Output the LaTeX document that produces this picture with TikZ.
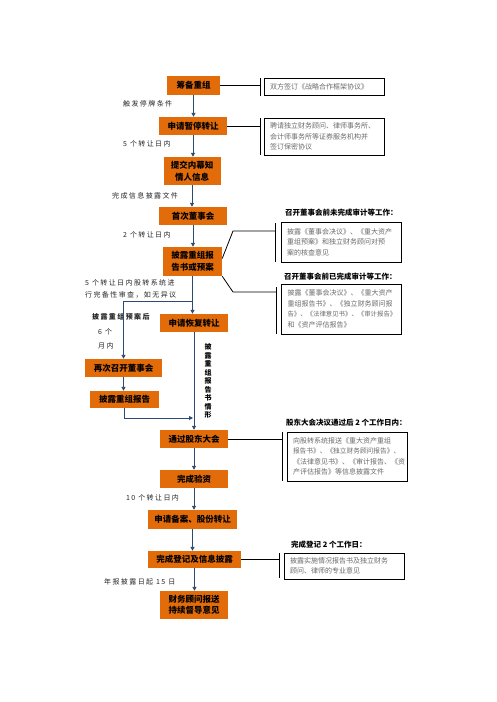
\documentclass[tikz,border=0pt]{standalone}
\usepackage{fontspec}
\setmainfont{Noto Sans CJK SC}
\newfontfamily\cjklab[LetterSpace=20]{Noto Sans CJK SC}
\usetikzlibrary{arrows.meta,calc}
\definecolor{org}{HTML}{E36C0A}
\definecolor{nav}{HTML}{2F4A70}
\definecolor{gtxt}{HTML}{6A6A6A}
\newcommand{\smline}[2]{{\fontsize{#1}{10.5}\selectfont #2}}
\begin{document}
\begin{tikzpicture}[x=1pt,y=-1pt,
 ob/.style={fill=org,draw=none,inner sep=0pt,font=\bfseries\fontsize{8.5}{11.5}\selectfont,align=center},
 gb/.style={draw=black,line width=0.8pt,fill=white,inner sep=0pt,text=gtxt,font=\fontsize{7}{10.5}\selectfont,align=left,minimum width=120pt,text width=108pt},
 hd/.style={font=\bfseries\fontsize{7.5}{9}\selectfont,inner sep=0pt,anchor=west},
 lb/.style={font=\cjklab\fontsize{7}{9}\selectfont,inner sep=0pt,anchor=west,text=black!85},
 ar/.style={draw=nav,line width=0.9pt,-{Triangle[length=4pt,width=4pt]}},
 ln/.style={draw=black,line width=0.8pt},
]
\useasboundingbox[fill=white] (0,0) rectangle (496,702);

% orange boxes
\node[ob,minimum width=53pt,minimum height=19pt] (n1) at (193.5,85) {筹备重组};
\node[ob,minimum width=68pt,minimum height=18pt] (n2) at (193,126) {申请暂停转让};
\node[ob,minimum width=57pt,minimum height=28pt] (n3) at (192,171) {提交内幕知\\情人信息};
\node[ob,minimum width=68pt,minimum height=18pt] (n4) at (193,216) {首次董事会};
\node[ob,minimum width=59pt,minimum height=29pt] (n5) at (192.5,261.5) {披露重组报\\告书或预案};
\node[ob,minimum width=68pt,minimum height=18pt] (n6) at (194,323) {申请恢复转让};
\node[ob,minimum width=77pt,minimum height=18pt] (n7) at (123.5,368) {再次召开董事会};
\node[ob,minimum width=69pt,minimum height=17pt] (n8) at (124.5,399.5) {披露重组报告};
\node[ob,minimum width=68pt,minimum height=18pt] (n9) at (194,439) {通过股东大会};
\node[ob,minimum width=68pt,minimum height=18pt] (n10) at (194,479) {完成验资};
\node[ob,minimum width=89pt,minimum height=19pt] (n11) at (192.5,519.5) {申请备案、股份转让};
\node[ob,minimum width=93pt,minimum height=17pt] (n12) at (194.5,559.5) {完成登记及信息披露};
\node[ob,minimum width=68pt,minimum height=28pt] (n13) at (194,605) {财务顾问报送\\持续督导意见};

% gray text boxes
\node[gb,minimum height=17pt] (g1) at (324,86.5) {双方签订《战略合作框架协议》};
\node[gb,minimum height=37pt] (g2) at (324,136.5) {聘请独立财务顾问、律师事务所、\\会计师事务所等证券服务机构并\\签订保密协议};
\node[gb,minimum height=40pt] (g3) at (341,242) {披露《董事会决议》、《重大资产\\重组预案》和独立财务顾问对预\\案的核查意见};
\node[gb,minimum height=50pt] (g4) at (341.5,309) {披露《董事会决议》、《重大资产\\重组报告书》、《独立财务顾问报\\\smline{6.4}{告》、《法律意见书》、《审计报告》}\\和《资产评估报告》};
\node[gb,minimum height=49pt] (g5) at (347,456.5) {向股转系统报送《重大资产重组\\\smline{6.7}{报告书》、《独立财务顾问报告》、}\\《法律意见书》、《审计报告、《资\\产评估报告》等信息披露文件};
\node[gb,minimum height=26pt] (g6) at (344,566) {披露实施情况报告书及独立财务\\顾问、律师的专业意见};

% headings
\node[hd] (h1) at (285,213) {召开董事会前未完成审计等工作：};
\node[hd] (h2) at (284,277) {召开董事会前已完成审计等工作：};
\node[hd] (h3) at (286,423) {股东大会决议通过后 2 个工作日内：};
\node[hd] (h4) at (291,545) {完成登记 2 个工作日：};

% labels
\node[lb] (l1) at (123,104) {触发停牌条件};
\node[lb] (l2) at (123,144) {5 个转让日内};
\node[lb] (l3) at (112,196) {完成信息披露文件};
\node[lb] (l4) at (123,235) {2 个转让日内};
\node[lb] (l5) at (85,283) {5 个转让日内股转系统进};
\node[lb] (l6) at (85,295) {行完备性审查，如无异议};
\node[lb,font=\cjklab\bfseries\fontsize{7}{9}\selectfont] (l7) at (92,317) {披露重组预案后};
\node[lb] (l8) at (98,332) {6 个};
\node[lb] (l9) at (98,346) {月内};
\node[lb] (l10) at (126,498) {10 个转让日内};
\node[lb] (l11) at (104,582) {年报披露日起 15 日};
\node[inner sep=0pt,font=\bfseries\fontsize{7}{8.5}\selectfont,align=center] (vt) at (208,381) {披\\露\\重\\组\\报\\告\\书\\情\\形};

% brackets
\coordinate (b1t) at (260,78); \coordinate (b1b) at (260,96);
\coordinate (b2t) at (260,118); \coordinate (b2b) at (260,155);
\coordinate (b3t) at (275,223); \coordinate (b3b) at (275,262);
\coordinate (b4t) at (276,287); \coordinate (b4b) at (276,334);
\coordinate (b5t) at (282,432); \coordinate (b5b) at (282,481);
\coordinate (b6t) at (279,553); \coordinate (b6b) at (279,578);
\foreach \b in {1,...,6}{\draw[ln] (b\b t) -- (b\b b);}
\draw[ln] (n1.east) -- (n1.east -| b1t);
\draw[ln] (n2.east) -- (n2.east -| b2t);
\coordinate (k3) at (233,231);
\coordinate (k4) at (233,292);
\draw[ln] ($(n5.east)+(0,-3)$) -- (k3) -- (k3 -| b3t);
\draw[ln] (n5.south east) -- (k4) -- (k4 -| b4t);
\draw[ln] (n9.east) -- (n9.east -| b5t);
\draw[ln] (n12.east) -- (n12.east -| b6t);

% arrows
\draw[ar] (n1.south) -- (n1.south |- n2.north);
\draw[ar] (n2.south) -- (n2.south |- n3.north);
\draw[ar] (n3.south) -- (n3.south |- n4.north);
\draw[ar] (n4.south) -- (n4.south |- n5.north);
\draw[ar] (n5.south) -- (n5.south |- n6.north);
\coordinate (br) at (193,301);
\draw[ar] (br) -| (n7.north);
\draw[ar] (n7.south) -- (n7.south |- n8.north);
\coordinate (mj) at (193,418);
\draw[ar] (n8.south) |- (mj);
\draw[ar] (n6.south) -- (n6.south |- n9.north);
\draw[ar] (n9.south) -- (n9.south |- n10.north);
\draw[ar] (n10.south) -- (n10.south |- n11.north);
\draw[ar] (n11.south) -- (n11.south |- n12.north);
\draw[ar] (n12.south) -- (n12.south |- n13.north);
\end{tikzpicture}
\end{document}
